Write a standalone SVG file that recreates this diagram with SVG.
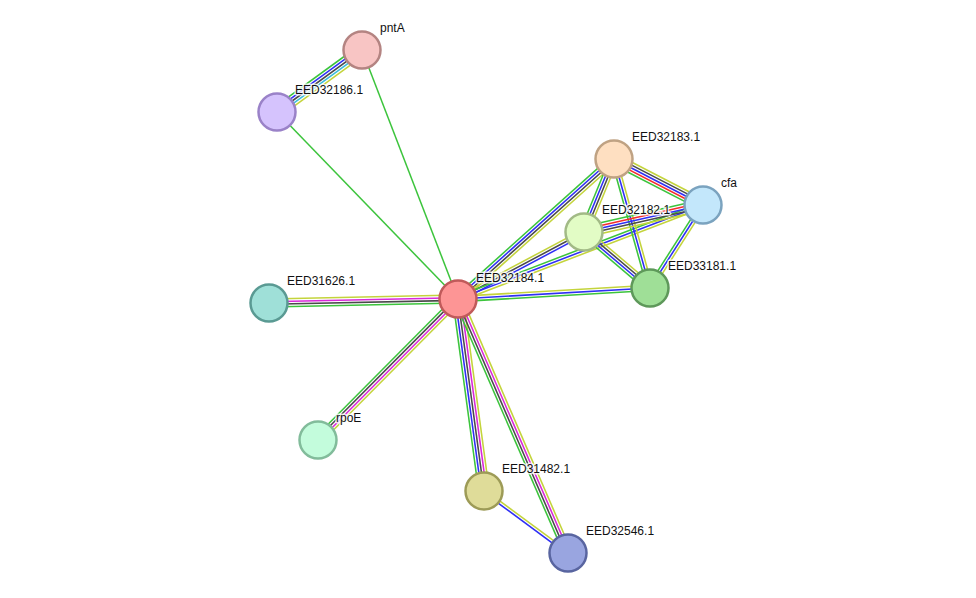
<svg xmlns="http://www.w3.org/2000/svg" width="976" height="598" viewBox="0 0 976 598">
<style>
line{stroke-width:1.5;fill:none}
#connectors g line{stroke-width:1.3}
.g{stroke:#3cc43c}.b{stroke:#2f2ff5}.k{stroke:#4a4a4a}.y{stroke:#c4d43c}.m{stroke:#d928d9}.c{stroke:#38bcdc}.r{stroke:#f42c2c}
.n circle{stroke-width:2.5}
text{font-family:"Liberation Sans",Arial,sans-serif;font-size:12px;fill:#111;stroke:#fff;stroke-width:3;stroke-opacity:0.8;paint-order:stroke;stroke-linejoin:round}
</style>
<rect width="976" height="598" fill="#fff"/>
<g id="connectors">
<g transform="translate(277,112) rotate(-36.1) scale(1,1.2)"><line class="g" x1="0" y1="-4.4" x2="105.2" y2="-4.4"/><line class="b" x1="0" y1="-2.2" x2="105.2" y2="-2.2"/><line class="k" x1="0" y1="0" x2="105.2" y2="0"/><line class="c" x1="0" y1="2.2" x2="105.2" y2="2.2"/><line class="y" x1="0" y1="4.4" x2="105.2" y2="4.4"/></g>
<line class="g" x1="458" y1="299" x2="362" y2="50"/>
<line class="g" x1="458" y1="299" x2="277" y2="112"/>
<g transform="translate(269,303) rotate(-1.2) scale(1,1.2)"><line class="y" x1="0" y1="-3.3" x2="189" y2="-3.3"/><line class="m" x1="0" y1="-1.1" x2="189" y2="-1.1"/><line class="k" x1="0" y1="1.1" x2="189" y2="1.1"/><line class="g" x1="0" y1="3.3" x2="189" y2="3.3"/></g>
<g transform="translate(318,440) rotate(-45.2) scale(1,1.2)"><line class="g" x1="0" y1="-3.3" x2="198.7" y2="-3.3"/><line class="k" x1="0" y1="-1.1" x2="198.7" y2="-1.1"/><line class="m" x1="0" y1="1.1" x2="198.7" y2="1.1"/><line class="y" x1="0" y1="3.3" x2="198.7" y2="3.3"/></g>
<g transform="translate(458,299) rotate(82.3) scale(1,1.2)"><line class="y" x1="0" y1="-4.4" x2="193.8" y2="-4.4"/><line class="m" x1="0" y1="-2.2" x2="193.8" y2="-2.2"/><line class="k" x1="0" y1="0" x2="193.8" y2="0"/><line class="b" x1="0" y1="2.2" x2="193.8" y2="2.2"/><line class="g" x1="0" y1="4.4" x2="193.8" y2="4.4"/></g>
<g transform="translate(458,299) rotate(66.6) scale(1,1.2)"><line class="y" x1="0" y1="-3.3" x2="276.8" y2="-3.3"/><line class="m" x1="0" y1="-1.1" x2="276.8" y2="-1.1"/><line class="k" x1="0" y1="1.1" x2="276.8" y2="1.1"/><line class="g" x1="0" y1="3.3" x2="276.8" y2="3.3"/></g>
<g transform="translate(484,491) rotate(36.4) scale(1,1.2)"><line class="y" x1="0" y1="-1.1" x2="104.4" y2="-1.1"/><line class="b" x1="0" y1="1.1" x2="104.4" y2="1.1"/></g>
<g transform="translate(458,299) rotate(-41.9) scale(1,1.2)"><line class="g" x1="0" y1="-3.3" x2="209.6" y2="-3.3"/><line class="b" x1="0" y1="-1.1" x2="209.6" y2="-1.1"/><line class="k" x1="0" y1="1.1" x2="209.6" y2="1.1"/><line class="y" x1="0" y1="3.3" x2="209.6" y2="3.3"/></g>
<g transform="translate(458,299) rotate(-28.0) scale(1,1.2)"><line class="y" x1="0" y1="-2.2" x2="142.7" y2="-2.2"/><line class="k" x1="0" y1="0" x2="142.7" y2="0"/><line class="b" x1="0" y1="2.2" x2="142.7" y2="2.2"/></g>
<g transform="translate(458,299) rotate(-21.0) scale(1,1.2)"><line class="g" x1="0" y1="-2.2" x2="262.4" y2="-2.2"/><line class="b" x1="0" y1="0" x2="262.4" y2="0"/><line class="y" x1="0" y1="2.2" x2="262.4" y2="2.2"/></g>
<g transform="translate(458,299) rotate(-3.3) scale(1,1.2)"><line class="y" x1="0" y1="-2.2" x2="192.3" y2="-2.2"/><line class="b" x1="0" y1="0" x2="192.3" y2="0"/><line class="g" x1="0" y1="2.2" x2="192.3" y2="2.2"/></g>
<g transform="translate(614,159) rotate(27.3) scale(1,1.2)"><line class="y" x1="0" y1="-4.4" x2="100.2" y2="-4.4"/><line class="k" x1="0" y1="-2.2" x2="100.2" y2="-2.2"/><line class="b" x1="0" y1="0" x2="100.2" y2="0"/><line class="r" x1="0" y1="2.2" x2="100.2" y2="2.2"/><line class="g" x1="0" y1="4.4" x2="100.2" y2="4.4"/></g>
<g transform="translate(584,232) rotate(-67.7) scale(1,1.2)"><line class="g" x1="0" y1="-3.3" x2="78.9" y2="-3.3"/><line class="b" x1="0" y1="-1.1" x2="78.9" y2="-1.1"/><line class="k" x1="0" y1="1.1" x2="78.9" y2="1.1"/><line class="y" x1="0" y1="3.3" x2="78.9" y2="3.3"/></g>
<g transform="translate(614,159) rotate(74.4) scale(1,1.2)"><line class="y" x1="0" y1="-2.2" x2="133.9" y2="-2.2"/><line class="b" x1="0" y1="0" x2="133.9" y2="0"/><line class="g" x1="0" y1="2.2" x2="133.9" y2="2.2"/></g>
<g transform="translate(584,232) rotate(-12.8) scale(1,1.2)"><line class="g" x1="0" y1="-4.4" x2="122" y2="-4.4"/><line class="r" x1="0" y1="-2.2" x2="122" y2="-2.2"/><line class="b" x1="0" y1="0" x2="122" y2="0"/><line class="k" x1="0" y1="2.2" x2="122" y2="2.2"/><line class="y" x1="0" y1="4.4" x2="122" y2="4.4"/></g>
<g transform="translate(584,232) rotate(40.3) scale(1,1.2)"><line class="y" x1="0" y1="-3.3" x2="86.6" y2="-3.3"/><line class="k" x1="0" y1="-1.1" x2="86.6" y2="-1.1"/><line class="b" x1="0" y1="1.1" x2="86.6" y2="1.1"/><line class="g" x1="0" y1="3.3" x2="86.6" y2="3.3"/></g>
<g transform="translate(650,288) rotate(-57.4) scale(1,1.2)"><line class="g" x1="0" y1="-2.2" x2="98.5" y2="-2.2"/><line class="b" x1="0" y1="0" x2="98.5" y2="0"/><line class="y" x1="0" y1="2.2" x2="98.5" y2="2.2"/></g>
</g>
<g id="pntA" class="n"><circle cx="362" cy="50" r="18.5" fill="#f8c5c4" stroke="#b48482"/><text x="380" y="32">pntA</text></g>
<g id="EED32186.1" class="n"><circle cx="277" cy="112" r="18.5" fill="#d5c3fd" stroke="#9a82c8"/><text x="295" y="94">EED32186.1</text></g>
<g id="EED32183.1" class="n"><circle cx="614" cy="159" r="18.5" fill="#fedfc1" stroke="#bfa283"/><text x="632" y="141">EED32183.1</text></g>
<g id="cfa" class="n"><circle cx="703" cy="205" r="18.5" fill="#c3e7fb" stroke="#7ba3bf"/><text x="721" y="187">cfa</text></g>
<g id="EED32182.1" class="n"><circle cx="584" cy="232" r="18.5" fill="#e2fcc5" stroke="#a2ba86"/><text x="602" y="214">EED32182.1</text></g>
<g id="EED33181.1" class="n"><circle cx="650" cy="288" r="18.5" fill="#9fdf97" stroke="#5e985a"/><text x="668" y="270">EED33181.1</text></g>
<g id="EED32184.1" class="n"><circle cx="458" cy="299" r="18.5" fill="#fd9595" stroke="#c05a5a"/><text x="476" y="282">EED32184.1</text></g>
<g id="EED31626.1" class="n"><circle cx="269" cy="303" r="18.5" fill="#9fe0d8" stroke="#5a9a93"/><text x="287" y="285">EED31626.1</text></g>
<g id="rpoE" class="n"><circle cx="318" cy="440" r="18.5" fill="#c3fcdc" stroke="#82bc9b"/><text x="336" y="422">rpoE</text></g>
<g id="EED31482.1" class="n"><circle cx="484" cy="491" r="18.5" fill="#dfdc99" stroke="#9d9b57"/><text x="502" y="473">EED31482.1</text></g>
<g id="EED32546.1" class="n"><circle cx="568" cy="553" r="18.5" fill="#99a5e0" stroke="#5965a0"/><text x="586" y="535">EED32546.1</text></g>
</svg>
